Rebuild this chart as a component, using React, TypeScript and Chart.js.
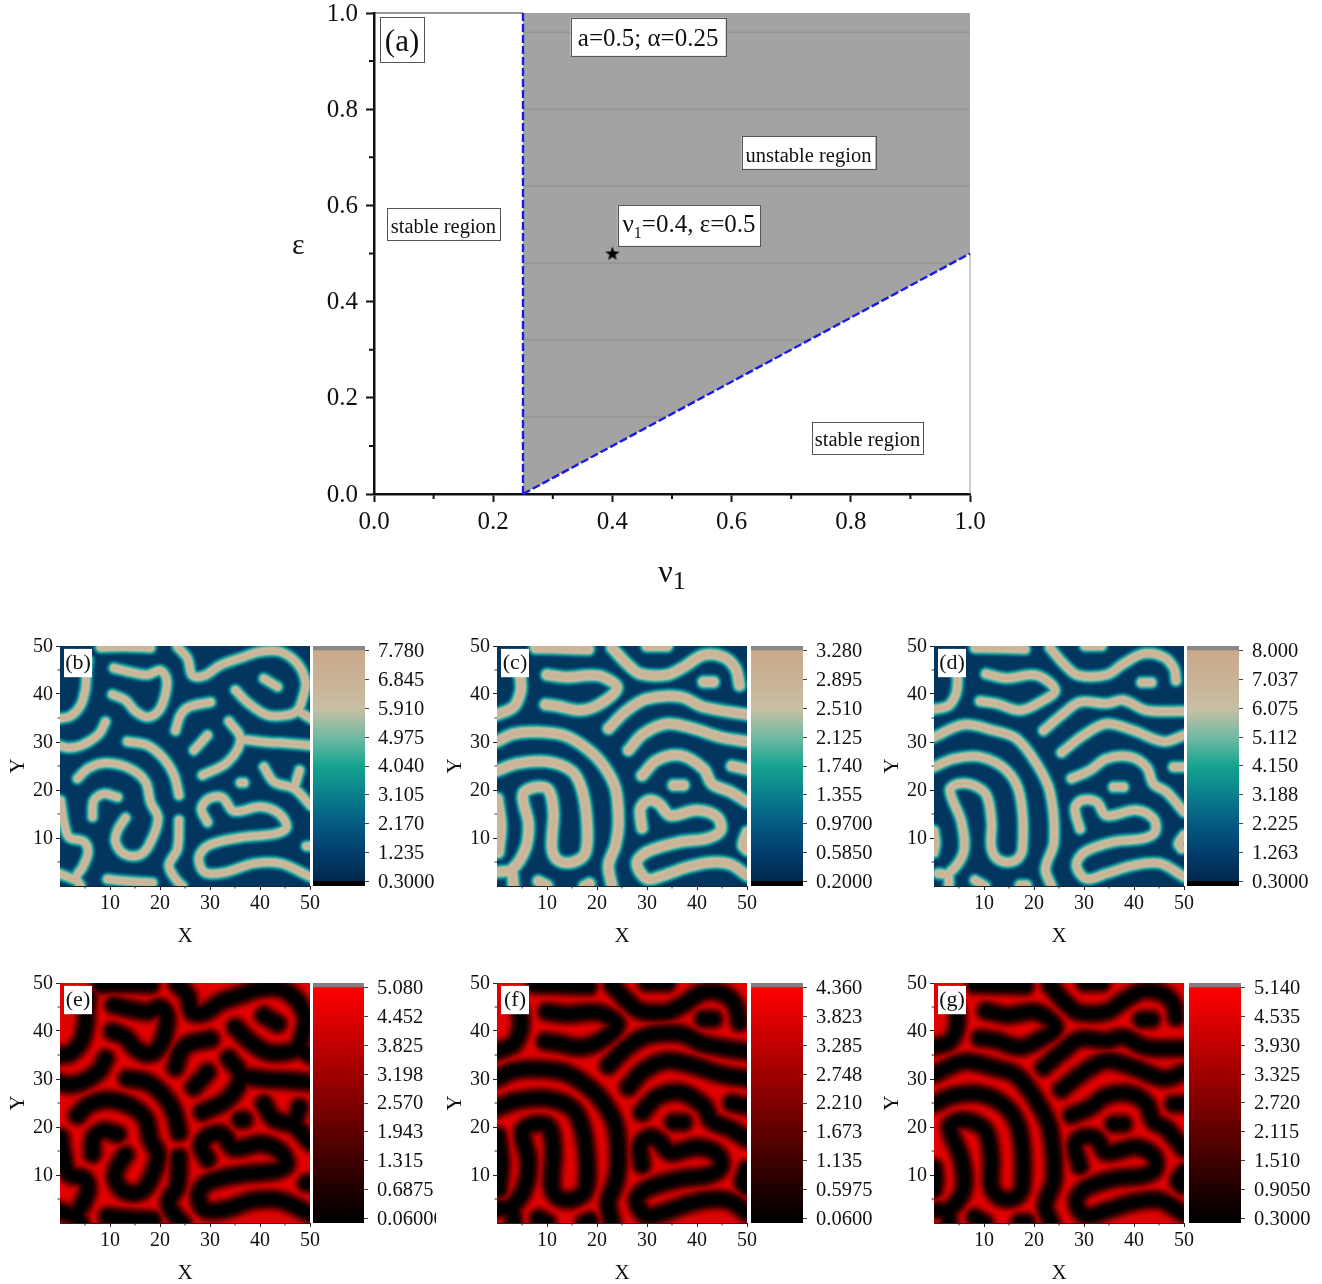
import React, { useEffect, useRef } from "react";
import { Chart, registerables } from "chart.js";

Chart.register(...registerables);

const SERIF = "'Liberation Serif', 'Times New Roman', serif";

// ---------- panel (a) data ----------
const REGION_OUTLINE = [[0.25, 0], [0.25, 1], [1, 1], [1, 0.5], [0.25, 0]];
const BOUNDARY_VERTICAL = [[0.25, 0], [0.25, 1]];
const BOUNDARY_SLOPED = [[0.25, 0], [1, 0.5]];
const REGION_RULES = [
  [0.25, 0.16, 0.49],
  [0.25, 0.32, 0.73],
  [0.25, 0.48, 0.97],
  [0.25, 0.64, 1],
  [0.25, 0.8, 1],
  [0.25, 0.96, 1],
];
const STAR_POINT = [[0.4, 0.5]];
const FRAME_TOP = [[0, 1], [0.25, 1]];
const FRAME_RIGHT = [[1, 0], [1, 0.5]];
const A_TICKS = [0, 0.2, 0.4, 0.6, 0.8, 1];
const A_MINOR = [0.1, 0.3, 0.5, 0.7, 0.9];

// ---------- stripe centre lines: [x, y, x, y, ...] in data units ----------
const STRIPES_B = [
  [5.6, 47, 5.3, 44.6, 5.1, 41.1, 4.1, 37.6, 2.1, 35.4, 0, 34.9],
  [8.1, 49.7, 13, 49.8, 18.1, 49.6],
  [10.8, 45.4, 14.8, 44.4, 17.5, 44, 20, 44.9, 21.3, 43.2, 21.1, 40, 19.8, 36.6, 17.5, 35.2, 15.1, 36.4, 13.1, 38.7, 10.5, 39.9],
  [23.5, 49.8, 25.5, 47.4, 26.5, 43.9, 28.8, 43.8, 32.1, 46, 36.1, 47.5, 40.1, 48.8, 44.1, 48.8, 47.5, 46.3, 49.1, 42.5, 48.5, 39, 47.5, 36.6, 45.5, 35.6, 41.5, 35.6, 37.8, 38, 35.1, 40.8],
  [47.5, 36.6, 50.1, 34.9],
  [40.8, 43.2, 43.5, 41.5],
  [30.1, 38.3, 25.8, 37.3, 24.1, 35.6, 23.1, 32.4],
  [9.1, 34.2, 7.8, 31.7, 4.5, 29.4, 1.8, 28.8, 0, 29.2],
  [13.5, 30.1, 17.5, 29.3, 20.8, 26.5, 22.8, 23.1, 23.8, 18.9],
  [29.5, 31.4, 26.8, 28.3],
  [33.8, 34.3, 36.1, 30.6, 33.5, 25.8, 28.5, 23.1],
  [36.1, 30.6, 40.8, 30, 45.5, 29.7, 50.1, 29.3],
  [3.5, 22.4, 5.8, 24.6, 9.5, 25.6, 14.1, 24.4, 17.1, 21.7, 18.1, 17.5, 19.6, 14, 17.8, 8.5, 15.8, 6.4, 12.8, 6.7, 11.1, 9.2, 11.5, 11.6, 13.1, 14.2],
  [11.5, 18.5, 8.8, 19.2, 6.8, 17.8, 6.5, 14.4],
  [0.1, 17.8, 0.8, 13.3, 1.8, 10.2, 4.8, 9.2, 5.6, 7, 4.5, 3.9, 3.3, 1.9, 4.1, 0],
  [0, 2.5, 3.3, 1.2],
  [9.5, 1.4, 13.5, 1, 18.5, 0.7],
  [23.8, 13.7, 23.5, 7.8, 21.8, 4.3, 23.1, 1.5, 24.5, 0],
  [29.5, 13.3, 28.3, 16.1, 29.8, 18.2, 32.5, 18.4, 34.8, 15.6, 40.1, 16.5, 43.8, 15.1, 45.3, 12.3, 43.1, 10.9, 36.1, 10.1, 29.8, 8.5, 27.8, 6, 28.9, 2.9, 32.8, 2.8, 38.8, 4.7, 44.1, 4.7, 50.1, 1.9],
  [36.1, 21.5, 36.8, 21.5],
  [40.8, 24.8, 42.8, 21.7, 46.8, 20.3, 50.1, 16.8],
  [47.9, 24.1, 46.8, 20.3],
  [49.3, 8.3, 50.1, 8.3],
];

const STRIPES_C = [
  [4.1, 45.3, 4.7, 43.2, 4.7, 40.4, 3.3, 37.3, 0, 35.7],
  [7.7, 49.6, 13, 49.5, 18.3, 49.3],
  [10, 44, 14, 43.5, 18.7, 43.9, 21.3, 43.5, 24, 41.3, 20.7, 38, 16.7, 36.6, 12, 37.5, 9.7, 37.8],
  [23, 49.6, 26, 46.3, 28.7, 44.2, 34, 44, 37.3, 45.6, 41.3, 48.1, 45.3, 47.7, 47.7, 45.3, 48.5, 41.8],
  [30, 50, 34, 50],
  [41.3, 42.5, 43.3, 42.5],
  [22.3, 32.8, 26, 36.6, 30, 39, 36.7, 39.4, 41.3, 37.3, 50, 35.7],
  [26.3, 28.3, 29.3, 31.7, 34, 33.8, 39.3, 32.8, 44.7, 31, 50, 30.1],
  [0, 30.1, 3.3, 31.7, 7.3, 32.1, 13.3, 31.4, 18, 28.6, 21.3, 25.1, 23.7, 20.3, 24.3, 13.3, 23.7, 8.5, 22.3, 4.3, 23, 0],
  [0, 24, 4, 25.5, 10, 25.9, 15, 23.9, 17, 20, 18, 13.3, 17.7, 7, 15.3, 5, 12.3, 5.3, 11, 7.8, 11.3, 15.4, 10.3, 20, 7.7, 20.6, 5.2, 19, 6.3, 13, 5.7, 7.8, 3, 3.5, 0, 2.9],
  [3, 3.5, 3.3, 0],
  [0.1, 18.2, 0.8, 12.6, 0.3, 7],
  [8.3, 1, 10, 0.1],
  [17.5, 0, 18.5, 0.5],
  [29, 23, 32, 26.2, 36.7, 27.2, 41.3, 24.4, 43, 21.3, 46.7, 19.6, 50, 17.5],
  [35.3, 21, 37.3, 21],
  [47, 25, 50, 24.3],
  [29, 12.1, 28.7, 16.1, 30.3, 17.8, 32.3, 17.2, 34.7, 14.7, 40, 15.8, 44, 14.4, 44.7, 11.6, 42, 9.9, 36.7, 9.2, 30, 7.1, 28, 4.7, 30, 1.5, 33.3, 2.2, 38, 3.9, 42.7, 4.9, 46.7, 4.5, 50, 2.2],
  [50, 11.2, 49.2, 8.5, 50, 7.5],
];

const STRIPES_D = [
  [4.2, 45.3, 4.7, 43.2, 4.4, 40.1, 2.9, 37.6, 0, 36.8],
  [8.2, 49.6, 13, 49.5, 18.2, 49.3],
  [10.4, 44.2, 14.5, 43.3, 20.5, 43.9, 24.2, 40.8, 21.2, 38.3, 17.2, 36.6, 12.5, 38, 9.2, 38.5],
  [23.2, 49.6, 26.2, 46, 28.9, 43.9, 34.5, 44, 37.9, 46.3, 41.9, 48.4, 45.9, 47.7, 48, 45.3, 48.4, 42.8],
  [30.2, 50, 33.5, 50],
  [41.5, 42.4, 43.5, 42.4],
  [21.9, 32.4, 25.5, 35.6, 29.2, 38.3, 34.5, 38, 37.9, 38.7, 42.5, 36.6, 50, 36.4],
  [25.5, 27.8, 29.9, 31.4, 34.5, 33.8, 39.9, 32.4, 45.9, 30.1, 50, 31.4],
  [0, 31, 5.9, 33.6, 11.9, 32.4, 16.5, 30.7, 20.5, 25.5, 23.2, 19.6, 24, 9.2, 22.3, 3.6, 23.5, 0],
  [0, 24.8, 3.9, 26.5, 9.2, 26.9, 14.5, 24.1, 17.2, 18.9, 17.7, 7.8, 16.2, 5.3, 13.2, 5.3, 11.5, 7.8, 11.5, 13.3, 10.5, 18.9, 7.9, 21, 4.9, 21.3, 3.2, 19.9, 5.5, 13.3, 5.9, 7, 2.9, 2.6, 0.9, 2.6],
  [2.9, 2.6, 3, 0],
  [0, 11.5, 0.3, 9, 0, 7],
  [8.2, 1.2, 10.2, 0],
  [17.2, 0.2, 18.5, 0.2],
  [27.5, 22.4, 31.2, 24.1, 34.5, 26.5, 39.2, 26.9, 42.5, 24.8, 43.9, 21.3, 46.5, 19.6, 50, 15.4],
  [35.9, 20.6, 37.9, 20.6],
  [47.9, 24.8, 50, 24.8],
  [29.2, 11.9, 28.2, 16.1, 29.5, 17.8, 32.5, 17.5, 34.5, 14.7, 40.5, 15.8, 43.9, 14, 44.2, 11.3, 41.9, 9.9, 35.9, 9.2, 30.2, 7.1, 28.5, 4.3, 30.5, 1.5, 34.5, 2.6, 39.9, 4.3, 45.2, 4.7, 50, 1.9],
  [50, 10.6, 48.9, 8.8, 49.5, 7.8],
];

// ---------- colour bar tick labels ----------
const BAR_B = ["0.3000", "1.235", "2.170", "3.105", "4.040", "4.975", "5.910", "6.845", "7.780"];
const BAR_C = ["0.2000", "0.5850", "0.9700", "1.355", "1.740", "2.125", "2.510", "2.895", "3.280"];
const BAR_D = ["0.3000", "1.263", "2.225", "3.188", "4.150", "5.112", "6.075", "7.037", "8.000"];
const BAR_E = ["0.06000", "0.6875", "1.315", "1.943", "2.570", "3.198", "3.825", "4.452", "5.080"];
const BAR_F = ["0.06000", "0.5975", "1.135", "1.673", "2.210", "2.748", "3.285", "3.823", "4.360"];
const BAR_G = ["0.3000", "0.9050", "1.510", "2.115", "2.720", "3.325", "3.930", "4.535", "5.140"];

const HEAT_TICKS = [10, 20, 30, 40, 50];
const HEAT_MINOR = [5, 15, 25, 35, 45];

// colour tables
const RAMP_TEAL: [number, string][] = [
  [0, "#01274c"], [0.125, "#023e6d"], [0.25, "#055b83"], [0.375, "#0a7f8c"], [0.5, "#14a48f"],
  [0.625, "#72b9a3"], [0.75, "#c9bfa3"], [0.875, "#c9b296"], [1, "#cba98a"],
];
const RAMP_RED: [number, string][] = [[0, "#000000"], [1, "#ff0000"]];
const LAYERS_TEAL: [number, string][] = [
  [12, "#033f6c"], [10, "#054f7a"], [8.5, "#086a85"], [7, "#0e8a8c"], [5.5, "#22a093"],
  [4, "#5fb09d"], [2.5, "#9ab9a4"], [1, "#bcbca4"], [0, "#c9bb9f"], [-3, "#cbb497"],
];
const LAYERS_RED: [number, string][] = [
  [21, "#d40000"], [19, "#c40000"], [16.5, "#ac0000"], [14, "#8c0000"], [11.5, "#6c0000"],
  [9, "#4c0000"], [6.5, "#2c0000"], [3.5, "#140000"], [0, "#000000"],
];

type Seg = { t: string; sub?: boolean };
type Box = { segs: Seg[]; x0: number; x1: number; y0: number; y1: number; size: number; border: string; bare?: boolean; subScale?: number; dy?: number };

const REGION_BOXES: Box[] = [
  { segs: [{ t: "(a)" }], x0: 0.01, x1: 0.084, y0: 0.992, y1: 0.898, size: 31, border: "#555", dy: 2 },
  { segs: [{ t: "a=0.5; α=0.25" }], x0: 0.33, x1: 0.59, y0: 0.99, y1: 0.911, size: 25, border: "#555", dy: 1 },
  { segs: [{ t: "unstable region" }], x0: 0.617, x1: 0.841, y0: 0.744, y1: 0.676, size: 20.5, border: "#555", dy: 3 },
  { segs: [{ t: "ν" }, { t: "1", sub: true }, { t: "=0.4, ε=0.5" }], x0: 0.409, x1: 0.648, y0: 0.601, y1: 0.516, size: 25, border: "#555", dy: -1 },
  { segs: [{ t: "stable region" }], x0: 0.022, x1: 0.211, y0: 0.595, y1: 0.528, size: 20.5, border: "#555", dy: 3 },
  { segs: [{ t: "stable region" }], x0: 0.735, x1: 0.921, y0: 0.15, y1: 0.083, size: 20.5, border: "#555", dy: 1 },
  { segs: [{ t: "ν" }, { t: "1", sub: true }], x0: 0.5, x1: 0.5, y0: -0.162, y1: -0.162, size: 32, border: "", bare: true, subScale: 0.8 },
  { segs: [{ t: "ε" }], x0: -0.127, x1: -0.127, y0: 0.518, y1: 0.518, size: 30, border: "", bare: true },
];

const boxPlugin = {
  id: "boxLabels",
  afterDatasetsDraw(chart: any, _a: any, opts: any) {
    const items: Box[] = opts.items || [];
    const { ctx, scales } = chart;
    ctx.save();
    for (const b of items) {
      const l = scales.x.getPixelForValue(b.x0);
      const r = scales.x.getPixelForValue(b.x1);
      const t = scales.y.getPixelForValue(b.y0);
      const bt = scales.y.getPixelForValue(b.y1);
      if (!b.bare) {
        ctx.fillStyle = "#fff";
        ctx.fillRect(l, t, r - l, bt - t);
      }
      if (b.border) {
        ctx.strokeStyle = b.border;
        ctx.lineWidth = 1;
        ctx.strokeRect(Math.round(l) + 0.5, Math.round(t) + 0.5, Math.round(r - l), Math.round(bt - t));
      }
      ctx.fillStyle = "#111";
      ctx.textBaseline = "alphabetic";
      ctx.textAlign = "left";
      const font = `${b.size}px ${SERIF}`;
      const subFont = `${Math.round(b.size * (b.subScale || 0.65))}px ${SERIF}`;
      let w = 0;
      for (const s of b.segs) {
        ctx.font = s.sub ? subFont : font;
        w += ctx.measureText(s.t).width;
      }
      let x = (l + r) / 2 - w / 2;
      const base = (t + bt) / 2 + b.size * 0.32 + (b.dy || 0);
      for (const s of b.segs) {
        ctx.font = s.sub ? subFont : font;
        ctx.fillText(s.t, x, base + (s.sub ? b.size * 0.22 : 0));
        x += ctx.measureText(s.t).width;
      }
    }
    ctx.restore();
  },
};

const minorTickPlugin = {
  id: "minorTicks",
  afterDraw(chart: any, _a: any, opts: any) {
    if (!opts.values) return;
    const { ctx, scales, chartArea } = chart;
    ctx.save();
    ctx.strokeStyle = opts.color || "#222";
    ctx.lineWidth = opts.width || 1;
    ctx.beginPath();
    for (const v of opts.values) {
      const px = scales.x.getPixelForValue(v);
      ctx.moveTo(px, chartArea.bottom);
      ctx.lineTo(px, chartArea.bottom + opts.len);
      const py = scales.y.getPixelForValue(v);
      ctx.moveTo(chartArea.left, py);
      ctx.lineTo(chartArea.left - opts.len, py);
    }
    ctx.stroke();
    ctx.restore();
  },
};

const areaFillPlugin = {
  id: "areaFill",
  beforeDatasetsDraw(chart: any, _a: any, opts: any) {
    if (!opts.color) return;
    const { ctx, chartArea: c } = chart;
    ctx.save();
    ctx.fillStyle = opts.color;
    ctx.fillRect(c.left, c.top, c.right - c.left, c.bottom - c.top);
    ctx.restore();
  },
};

const toPts = (pairs: number[][]) => pairs.map(([x, y]) => ({ x, y }));
const GAP = { x: NaN, y: NaN };

function flatten(stripes: number[][]) {
  const out: { x: number; y: number }[] = [];
  for (const s of stripes) {
    for (let i = 0; i < s.length; i += 2) out.push({ x: s[i], y: s[i + 1] });
    out.push(GAP);
  }
  return out;
}

// the axis boxes are pinned so that the plot area lands where the figure has it
const pinY = (w: number) => (ax: any) => { ax.width = w; ax.paddingTop = 0; ax.paddingBottom = 0; };
const pinX = (h: number) => (ax: any) => { ax.height = h; ax.paddingLeft = 0; ax.paddingRight = 0; };

function RegionChart() {
  const ref = useRef<HTMLCanvasElement>(null);
  useEffect(() => {
    const star = document.createElement("canvas");
    star.width = 16;
    star.height = 16;
    const s = star.getContext("2d")!;
    s.fillStyle = "#000";
    s.beginPath();
    for (let i = 0; i < 10; i++) {
      const r = i % 2 ? 3 : 7.5;
      const a = -Math.PI / 2 + (i * Math.PI) / 5;
      s.lineTo(8 + r * Math.cos(a), 8.5 + r * Math.sin(a));
    }
    s.closePath();
    s.fill();
    const rules: { x: number; y: number }[] = [];
    for (const [a, y, b] of REGION_RULES) {
      rules.push({ x: a, y }, { x: b, y }, GAP);
    }
    const base = { showLine: true, pointRadius: 0, fill: false };
    const chart = new Chart(ref.current!, {
      type: "scatter",
      data: {
        datasets: [
          { data: toPts(STAR_POINT), pointStyle: star, showLine: false, pointRadius: 8 },
          { ...base, data: toPts(BOUNDARY_VERTICAL), borderColor: "#1a1ae6", borderWidth: 2.4, borderDash: [8, 3], clip: false },
          { ...base, data: toPts(BOUNDARY_SLOPED), borderColor: "#1a1ae6", borderWidth: 2.4, borderDash: [8, 3], clip: false },
          { ...base, data: toPts(FRAME_TOP), borderColor: "#333", borderWidth: 1.2, clip: false },
          { ...base, data: toPts(FRAME_RIGHT), borderColor: "#999", borderWidth: 1, clip: false },
          { ...base, data: rules, borderColor: "#8e8e8e", borderWidth: 1 },
          { ...base, data: toPts(REGION_OUTLINE), fill: "shape", backgroundColor: "#a3a3a3", borderWidth: 0, borderColor: "transparent" },
        ] as any,
      },
      options: {
        animation: false,
        responsive: false,
        events: [],
        layout: { padding: { left: 0, right: 30, top: 13, bottom: 0 } },
        plugins: {
          legend: { display: false },
          tooltip: { enabled: false },
          boxLabels: { items: REGION_BOXES },
          minorTicks: { values: A_MINOR, len: 5, width: 2, color: "#111" },
        } as any,
        scales: {
          x: {
            type: "linear", min: 0, max: 1,
            afterBuildTicks: (ax: any) => { ax.ticks = A_TICKS.map((value) => ({ value })); },
            afterFit: pinX(106),
            grid: { drawOnChartArea: false, tickLength: 8, tickWidth: 2, tickColor: "#111" },
            border: { color: "#111", width: 2.5 },
            ticks: { autoSkip: false, maxRotation: 0, padding: 5, color: "#111", font: { family: SERIF, size: 25 }, callback: (v: any) => Number(v).toFixed(1) },
          },
          y: {
            type: "linear", min: 0, max: 1,
            afterBuildTicks: (ax: any) => { ax.ticks = A_TICKS.map((value) => ({ value })); },
            afterFit: pinY(94),
            grid: { drawOnChartArea: false, tickLength: 8, tickWidth: 2, tickColor: "#111" },
            border: { color: "#111", width: 2.5 },
            ticks: { autoSkip: false, padding: 8, labelOffset: 1, color: "#111", font: { family: SERIF, size: 25 }, callback: (v: any) => Number(v).toFixed(1) },
          },
        },
      } as any,
      plugins: [boxPlugin, minorTickPlugin],
    });
    return () => chart.destroy();
  }, []);
  return <canvas ref={ref} width={720} height={600} style={{ position: "absolute", left: 280, top: 0 }} />;
}

type HeatProps = {
  name: string; left: number; top: number; stripes: number[][];
  layers: [number, string][]; core: number; bg: string;
};

function HeatMap({ name, left, top, stripes, layers, core, bg }: HeatProps) {
  const ref = useRef<HTMLCanvasElement>(null);
  useEffect(() => {
    const pts = flatten(stripes);
    // chart.js paints the first dataset last, so the narrowest layer comes first
    const datasets = [...layers].reverse().map(([extra, color]) => ({
      data: pts,
      showLine: true,
      pointRadius: 0,
      fill: false,
      tension: 0.35,
      spanGaps: false,
      borderColor: color,
      borderWidth: core + extra,
      borderCapStyle: "round",
      borderJoinStyle: "round",
      clip: 0,
    }));
    const tickScale = (label: string, pad: any, tickPad: number, offset: number) => ({
      type: "linear", min: 0, max: 50,
      afterBuildTicks: (ax: any) => { ax.ticks = HEAT_TICKS.map((value) => ({ value })); },
      grid: { drawOnChartArea: false, tickLength: 4, tickColor: "#222" },
      border: { color: "#222", width: 1 },
      ticks: { autoSkip: false, maxRotation: 0, padding: tickPad, labelOffset: offset, color: "#111", font: { family: SERIF, size: 20 } },
      title: { display: true, text: label, color: "#111", font: { family: SERIF, size: 21 }, padding: pad },
    });
    const chart = new Chart(ref.current!, {
      type: "scatter",
      data: { datasets } as any,
      options: {
        animation: false,
        responsive: false,
        events: [],
        layout: { padding: { left: 0, right: 16, top: 10, bottom: 0 } },
        elements: { line: { capBezierPoints: false } },
        plugins: {
          legend: { display: false },
          tooltip: { enabled: false },
          areaFill: { color: bg },
          minorTicks: { values: HEAT_MINOR, len: 2.5, color: "#333" },
          boxLabels: { items: [{ segs: [{ t: name }], x0: 0.8, x1: 6.4, y0: 49.4, y1: 43.5, size: 22, border: "", dy: -1 }] },
        } as any,
        scales: {
          x: { ...tickScale("X", { top: 0, bottom: 0 }, 2, 0), afterFit: pinX(63) },
          y: { ...tickScale("Y", { top: 6, bottom: 0 }, 3, 1), afterFit: pinY(60) },
        },
      } as any,
      plugins: [areaFillPlugin, boxPlugin, minorTickPlugin],
    });
    return () => chart.destroy();
  }, []);
  return <canvas ref={ref} width={326} height={313} style={{ position: "absolute", left: left - 60, top: top - 10 }} />;
}

type BarProps = { left: number; top: number; barWidth: number; canvasWidth: number; labels: string[]; ramp: [number, string][]; topColor: string };

function ColorBar({ left, top, barWidth, canvasWidth, labels, ramp, topColor }: BarProps) {
  const ref = useRef<HTMLCanvasElement>(null);
  useEffect(() => {
    const values = labels.map(Number);
    const lo = values[0];
    const hi = values[values.length - 1];
    const band = (hi - lo) * 0.0202;
    const canvas = ref.current!;
    const g = canvas.getContext("2d")!.createLinearGradient(0, 245.3, 0, 14.7);
    for (const [f, col] of ramp) g.addColorStop(f, col);
    const chart = new Chart(canvas, {
      type: "bar",
      data: {
        labels: [""],
        datasets: [
          { data: [[lo - band, lo]], backgroundColor: "#000000", barPercentage: 1, categoryPercentage: 1 },
          { data: [[lo, hi]], backgroundColor: g, barPercentage: 1, categoryPercentage: 1 },
          { data: [[hi, hi + band]], backgroundColor: topColor, barPercentage: 1, categoryPercentage: 1 },
        ],
      } as any,
      options: {
        animation: false,
        responsive: false,
        events: [],
        layout: { padding: { left: 0, right: 0, top: 10, bottom: 10 } },
        plugins: { legend: { display: false }, tooltip: { enabled: false } },
        scales: {
          x: { display: false, stacked: true },
          y: {
            type: "linear", position: "right", min: lo - band, max: hi + band,
            afterBuildTicks: (ax: any) => { ax.ticks = values.map((value) => ({ value })); },
            afterFit: pinY(canvasWidth - barWidth),
            grid: { drawOnChartArea: false, tickLength: 4, tickColor: "#444" },
            border: { display: false },
            ticks: { autoSkip: false, padding: 9, labelOffset: 1, color: "#111", font: { family: SERIF, size: 20.5 }, callback: (_v: any, i: number) => labels[i] },
          },
        },
      } as any,
    });
    return () => chart.destroy();
  }, []);
  return <canvas ref={ref} width={canvasWidth} height={260} style={{ position: "absolute", left, top: top - 10 }} />;
}

const ROW_1 = 645.7;
const ROW_2 = 983;
const PANELS = [
  { name: "(b)", left: 59.5, top: ROW_1, stripes: STRIPES_B, layers: LAYERS_TEAL, core: 5.5, bg: "#02365f", cbLeft: 313.3, cbW: 52, cbCanvas: 123, labels: BAR_B, ramp: RAMP_TEAL, cap: "#888888" },
  { name: "(c)", left: 496.7, top: ROW_1, stripes: STRIPES_C, layers: LAYERS_TEAL, core: 7.5, bg: "#02365f", cbLeft: 751, cbW: 52, cbCanvas: 122, labels: BAR_C, ramp: RAMP_TEAL, cap: "#888888" },
  { name: "(d)", left: 934, top: ROW_1, stripes: STRIPES_D, layers: LAYERS_TEAL, core: 6, bg: "#02365f", cbLeft: 1187.3, cbW: 52, cbCanvas: 130, labels: BAR_D, ramp: RAMP_TEAL, cap: "#888888" },
  { name: "(e)", left: 59.5, top: ROW_2, stripes: STRIPES_B, layers: LAYERS_RED, core: 8, bg: "#e00000", cbLeft: 313.3, cbW: 51, cbCanvas: 123, labels: BAR_E, ramp: RAMP_RED, cap: "#808080" },
  { name: "(f)", left: 496.7, top: ROW_2, stripes: STRIPES_C, layers: LAYERS_RED, core: 8, bg: "#e00000", cbLeft: 751, cbW: 52, cbCanvas: 122, labels: BAR_F, ramp: RAMP_RED, cap: "#808080" },
  { name: "(g)", left: 934, top: ROW_2, stripes: STRIPES_D, layers: LAYERS_RED, core: 7.5, bg: "#e00000", cbLeft: 1188.7, cbW: 52, cbCanvas: 130, labels: BAR_G, ramp: RAMP_RED, cap: "#808080" },
];

export default function App() {
  return (
    <div style={{ position: "absolute", left: 0, top: 0, width: 1322, height: 1284, background: "#fff", overflow: "hidden", filter: "blur(0.5px)" }}>
      <RegionChart />
      {PANELS.map((p) => (
        <React.Fragment key={p.name}>
          <HeatMap name={p.name} left={p.left} top={p.top} stripes={p.stripes} layers={p.layers as any} core={p.core} bg={p.bg} />
          <ColorBar left={p.cbLeft} top={p.top} barWidth={p.cbW} canvasWidth={p.cbCanvas} labels={p.labels} ramp={p.ramp as any} topColor={p.cap} />
        </React.Fragment>
      ))}
    </div>
  );
}
